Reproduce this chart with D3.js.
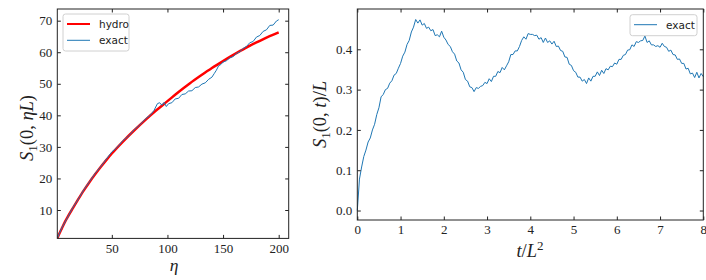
<!DOCTYPE html>
<html>
<head>
<meta charset="utf-8">
<script src="https://cdn.jsdelivr.net/npm/d3@7"></script>
<style>
  body { margin: 0; background: #fff; }
  svg { display: block; }
  .tick text { font-family: "Liberation Serif", serif; font-size: 13px; fill: #222; }
  .tick line { stroke: #222; stroke-width: 1; }
  .math { font-family: "Liberation Serif", serif; font-size: 18.5px; fill: #222; }
  .legend text { font-family: "DejaVu Sans", sans-serif; font-size: 10.5px; fill: #222; }
</style>
</head>
<body>
<svg id="fig" width="706" height="280"></svg>
<script>
// Left panel: S_1(0, eta L) against eta
var hydroEta = [1, 3, 5, 8, 10, 15, 20, 25, 30, 35, 40, 45, 50, 60, 70, 80, 90, 100, 110, 120, 130, 140, 150, 160, 170, 180, 190, 200];
var hydroS   = [1, 2.6, 4.1, 6.3, 7.6, 10.6, 13.5, 16.3, 18.9, 21.3, 23.6, 25.8, 27.9, 31.7, 35.2, 38.5, 41.6, 44.5, 47.4, 50.1, 52.6, 55.0, 57.2, 59.3, 61.3, 63.1, 64.8, 66.3];

var exactEta = [1, 5, 10, 15, 20, 25, 30, 35, 40, 45, 50, 55, 60, 65, 70, 75, 80, 85, 88, 91, 93, 95, 97, 99, 101, 104, 107, 110, 113, 116, 119, 122, 125, 128, 131, 134, 137, 140, 142, 144, 146, 148, 150, 153, 156, 159, 162, 165, 168, 171, 174, 177, 180, 183, 186, 189, 192, 195, 198, 200];
var exactS   = [1, 4.3, 7.5, 10.8, 13.5, 16.5, 19.0, 21.6, 23.7, 26.1, 28.4, 29.9, 32.0, 33.4, 35.4, 36.9, 38.8, 40.2, 41.6, 43.7, 44.0, 43.2, 44.1, 42.8, 43.7, 44.0, 45.2, 45.4, 46.6, 46.8, 47.7, 47.8, 48.8, 49.0, 49.9, 50.3, 51.4, 52.1, 53.2, 54.3, 55.7, 56.1, 56.9, 57.3, 58.2, 58.6, 59.6, 60.1, 61.2, 61.8, 63.0, 63.4, 64.8, 65.3, 66.6, 67.1, 68.5, 68.6, 69.9, 70.3];

var leftXTicks = [50, 100, 150, 200];
var leftYTicks = [10, 20, 30, 40, 50, 60, 70];

// Right panel: S_1(0, t)/L against t/L^2, sampled every 0.05
var tStep = 0.05;
var exactT = [
  0, 0.078, 0.108, 0.134, 0.15, 0.17, 0.18, 0.2, 0.214, 0.238,
  0.255, 0.282, 0.288, 0.3, 0.303, 0.316, 0.322, 0.336, 0.34, 0.353,
  0.365, 0.383, 0.393, 0.412, 0.422, 0.443, 0.455, 0.474, 0.465, 0.473,
  0.46, 0.464, 0.452, 0.455, 0.446, 0.449, 0.434, 0.436, 0.431, 0.445,
  0.43, 0.423, 0.412, 0.407, 0.394, 0.388, 0.371, 0.366, 0.349, 0.343,
  0.325, 0.321, 0.307, 0.305, 0.295, 0.305, 0.303, 0.308, 0.31, 0.318,
  0.315, 0.327, 0.32, 0.333, 0.333, 0.345, 0.342, 0.355, 0.349, 0.359,
  0.369, 0.387, 0.387, 0.396, 0.396, 0.407, 0.422, 0.431, 0.425, 0.439,
  0.437, 0.437, 0.434, 0.435, 0.425, 0.429, 0.417, 0.428, 0.417, 0.421,
  0.413, 0.42, 0.407, 0.408, 0.397, 0.395, 0.381, 0.38, 0.363, 0.36,
  0.347, 0.343, 0.331, 0.331, 0.321, 0.325, 0.315, 0.329, 0.321, 0.333,
  0.333, 0.344, 0.335, 0.348, 0.34, 0.352, 0.349, 0.358, 0.357, 0.366,
  0.363, 0.375, 0.375, 0.385, 0.387, 0.398, 0.399, 0.411, 0.407, 0.419,
  0.417, 0.421, 0.422, 0.433, 0.417, 0.421, 0.411, 0.411, 0.407, 0.409,
  0.405, 0.415, 0.407, 0.405, 0.395, 0.398, 0.387, 0.386, 0.375, 0.376,
  0.365, 0.365, 0.351, 0.353, 0.339, 0.341, 0.33, 0.343, 0.329, 0.34,
  0.332
];
var rightXTicks = [0, 1, 2, 3, 4, 5, 6, 7, 8];
var rightYTicks = [0.0, 0.1, 0.2, 0.3, 0.4];

var BLUE = '#1f77b4', RED = '#ff0000', INK = '#222';
var svg = d3.select('#fig');

// Draw one panel frame with inward ticks on all four sides.
function frame(x, y, xt, yt, xfmt, yfmt){
  var r = x.range(), b = y.range();
  var g = svg.append('g');
  g.append('g').attr('transform', 'translate(0,' + b[0] + ')')
    .call(d3.axisBottom(x).tickValues(xt).tickSizeInner(-3.5).tickSizeOuter(0).tickPadding(5).tickFormat(xfmt));
  g.append('g').attr('transform', 'translate(0,' + b[1] + ')')
    .call(d3.axisTop(x).tickValues(xt).tickSizeInner(-3.5).tickSizeOuter(0).tickFormat(''));
  g.append('g').attr('transform', 'translate(' + r[0] + ',0)')
    .call(d3.axisLeft(y).tickValues(yt).tickSizeInner(-3.5).tickSizeOuter(0).tickPadding(5).tickFormat(yfmt));
  g.append('g').attr('transform', 'translate(' + r[1] + ',0)')
    .call(d3.axisRight(y).tickValues(yt).tickSizeInner(-3.5).tickSizeOuter(0).tickFormat(''));
  g.selectAll('.domain').remove();
  g.append('rect')
    .attr('x', r[0]).attr('y', b[1])
    .attr('width', r[1] - r[0]).attr('height', b[0] - b[1])
    .attr('fill', 'none').attr('stroke', INK).attr('stroke-width', 1);
  return g;
}

function legend(x0, y0, w, items){
  var g = svg.append('g').attr('class', 'legend');
  g.append('rect')
    .attr('x', x0).attr('y', y0).attr('width', w).attr('height', 5 + items.length * 16)
    .attr('rx', 2.5).attr('fill', 'white').attr('fill-opacity', 0.8)
    .attr('stroke', '#d0d0d0').attr('stroke-width', 1);
  items.forEach(function(it, i){
    var yy = y0 + 10 + i * 16.3;
    g.append('line')
      .attr('x1', x0 + 4).attr('x2', x0 + 27).attr('y1', yy).attr('y2', yy)
      .attr('stroke', it.color).attr('stroke-width', it.width);
    g.append('text').attr('x', x0 + 36).attr('y', yy + 3.8).text(it.label);
  });
}

// ---- left panel
var xL = d3.scaleLinear().domain([1, 209]).range([57.3, 288.7]);
var yL = d3.scaleLinear().domain([1, 73.7]).range([238.4, 9]);

svg.append('clipPath').attr('id', 'clipL').append('rect')
  .attr('x', 57.3).attr('y', 9).attr('width', 231.4).attr('height', 229.4);

var lineL = d3.line().x(function(d){ return xL(d[0]); }).y(function(d){ return yL(d[1]); }).curve(d3.curveMonotoneX);
svg.append('path')
  .datum(d3.zip(hydroEta, hydroS))
  .attr('d', lineL).attr('fill', 'none').attr('stroke', RED).attr('stroke-width', 2.5)
  .attr('clip-path', 'url(#clipL)');
svg.append('path')
  .datum(d3.zip(exactEta, exactS))
  .attr('d', d3.line().x(function(d){ return xL(d[0]); }).y(function(d){ return yL(d[1]); }))
  .attr('fill', 'none').attr('stroke', BLUE).attr('stroke-width', 1)
  .attr('clip-path', 'url(#clipL)');

frame(xL, yL, leftXTicks, leftYTicks, d3.format('d'), d3.format('d'));
legend(63, 14, 66, [
  { label: 'hydro', color: RED, width: 2 },
  { label: 'exact', color: BLUE, width: 1 }
]);

// x label: eta
svg.append('text').attr('class', 'math')
  .attr('x', 174).attr('y', 270.5).attr('text-anchor', 'middle')
  .style('font-style', 'italic').style('font-size', '17.5px').text('η');

// y label: S_1(0, eta L)
var ylab = svg.append('text').attr('class', 'math')
  .attr('text-anchor', 'middle')
  .attr('transform', 'translate(33,128) rotate(-90)');
ylab.append('tspan').style('font-style', 'italic').text('S');
ylab.append('tspan').attr('dy', 4).style('font-size', '13px').text('1');
ylab.append('tspan').attr('dy', -4).text('(0, ');
ylab.append('tspan').style('font-style', 'italic').text('ηL');
ylab.append('tspan').text(')');

// ---- right panel
var xR = d3.scaleLinear().domain([0, 8]).range([357.3, 703.3]);
var yR = d3.scaleLinear().domain([-0.0235, 0.5]).range([220, 9]);

var seriesR = exactT.map(function(v, i){ return [i * tStep, v]; });
svg.append('path')
  .datum(seriesR)
  .attr('d', d3.line().x(function(d){ return xR(d[0]); }).y(function(d){ return yR(d[1]); }))
  .attr('fill', 'none').attr('stroke', BLUE).attr('stroke-width', 1);

frame(xR, yR, rightXTicks, rightYTicks, d3.format('d'), d3.format('.1f'));
legend(630, 14.7, 67, [
  { label: 'exact', color: BLUE, width: 1 }
]);

var xlabR = svg.append('text').attr('class', 'math')
  .attr('x', 530).attr('y', 257).attr('text-anchor', 'middle');
xlabR.append('tspan').style('font-style', 'italic').text('t');
xlabR.append('tspan').text('/');
xlabR.append('tspan').style('font-style', 'italic').text('L');
xlabR.append('tspan').attr('dy', -7.5).style('font-size', '13px').text('2');

var ylabR = svg.append('text').attr('class', 'math')
  .attr('text-anchor', 'middle')
  .attr('transform', 'translate(326,114.5) rotate(-90)');
ylabR.append('tspan').style('font-style', 'italic').text('S');
ylabR.append('tspan').attr('dy', 4).style('font-size', '13px').text('1');
ylabR.append('tspan').attr('dy', -4).text('(0, ');
ylabR.append('tspan').style('font-style', 'italic').text('t');
ylabR.append('tspan').text(')/');
ylabR.append('tspan').style('font-style', 'italic').text('L');
</script>
</body>
</html>
